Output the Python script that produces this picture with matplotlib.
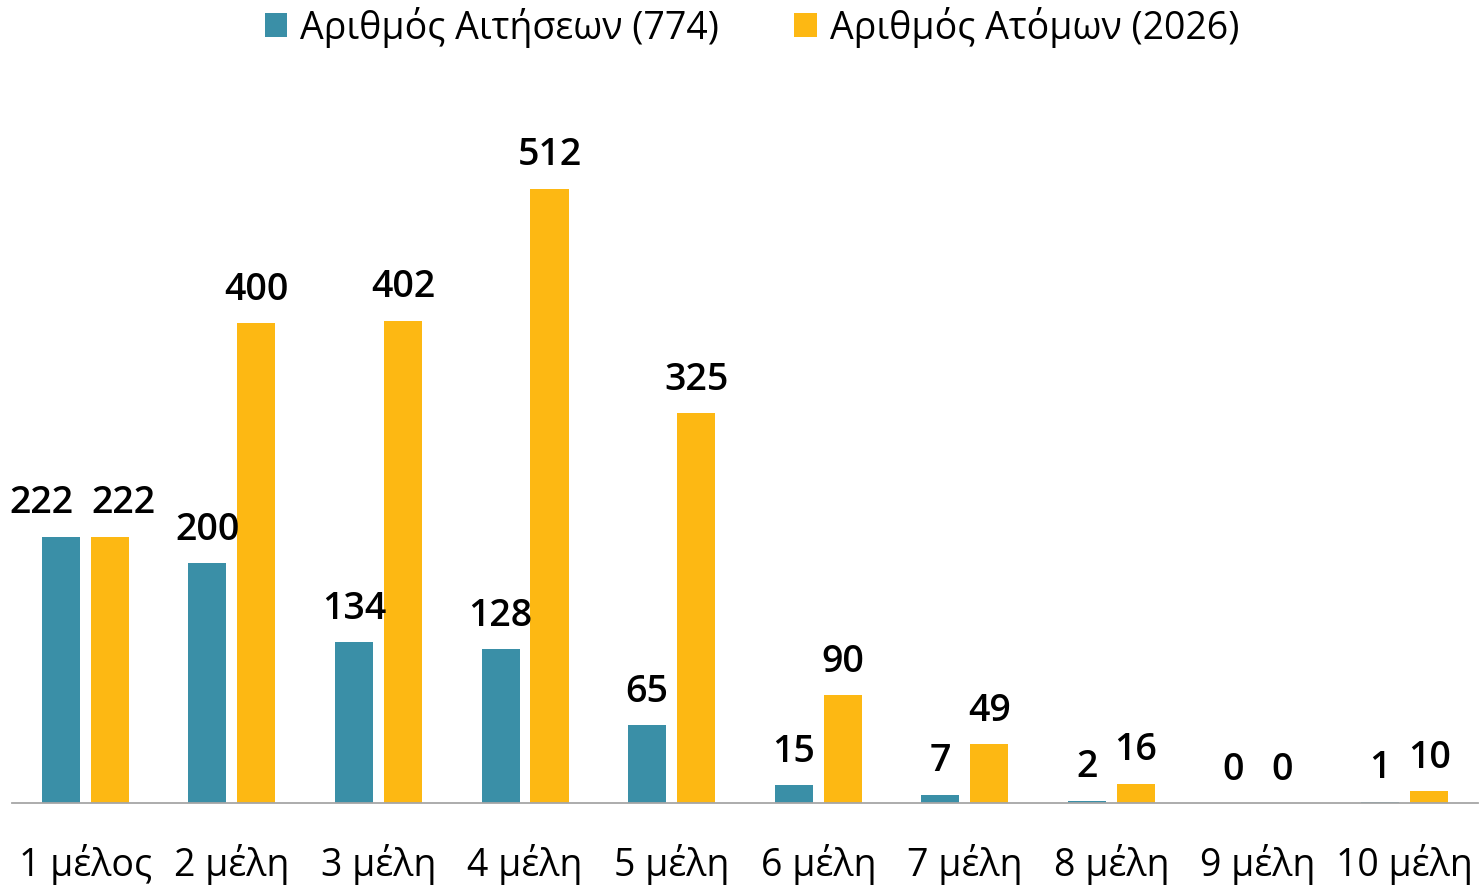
import matplotlib.pyplot as plt
import numpy as np

categories = ["1 μέλος", "2 μέλη", "3 μέλη", "4 μέλη", "5 μέλη",
              "6 μέλη", "7 μέλη", "8 μέλη", "9 μέλη", "10 μέλη"]
applications = [222, 200, 134, 128, 65, 15, 7, 2, 0, 1]
persons = [222, 400, 402, 512, 325, 90, 49, 16, 0, 10]
series_names = ["Αριθμός Αιτήσεων (774)", "Αριθμός Ατόμων (2026)"]

TEAL = "#3A8FA7"
YELLOW = "#FDB813"

plt.rcParams["font.family"] = ["Open Sans", "DejaVu Sans"]


def main():
    fig = plt.figure(figsize=(14.8, 8.87), dpi=100)
    ax = fig.add_axes([0.0081, 0.0936, 0.9905, 0.8117])

    x = np.arange(len(categories))
    width = 0.26
    offset = 0.167

    bars_a = ax.bar(x - offset, applications, width, color=TEAL, label=series_names[0])
    bars_p = ax.bar(x + offset, persons, width, color=YELLOW, label=series_names[1])

    # Excel nudged the first pair of labels apart
    shift_a = [-14] + [0] * (len(categories) - 1)
    shift_p = [10] + [0] * (len(categories) - 1)

    for bars, values, shifts in ((bars_a, applications, shift_a), (bars_p, persons, shift_p)):
        for bar, val, dx in zip(bars, values, shifts):
            ax.annotate(str(val),
                        (bar.get_x() + bar.get_width() / 2, bar.get_height()),
                        xytext=(dx, 11), textcoords="offset points",
                        ha="center", va="bottom", fontsize=27,
                        fontweight="semibold", color="black")

    ax.set_xlim(-0.5, len(categories) - 0.5)
    ax.set_ylim(0, 600)
    ax.set_xticks(x)
    ax.set_xticklabels(categories, fontsize=27)
    ax.tick_params(axis="x", length=0, pad=29)
    ax.set_yticks([])

    for side in ("top", "right", "left"):
        ax.spines[side].set_visible(False)
    ax.spines["bottom"].set_color("#A6A6A6")
    ax.spines["bottom"].set_linewidth(1.3)

    fig.legend(loc="upper center", bbox_to_anchor=(0.508, 1.03), ncol=2,
               frameon=False, fontsize=27, handlelength=0.6, handleheight=0.6,
               handletextpad=0.35, columnspacing=2.0)

    plt.savefig("out.png", dpi=100)
    plt.close()


if __name__ == "__main__":
    main()
